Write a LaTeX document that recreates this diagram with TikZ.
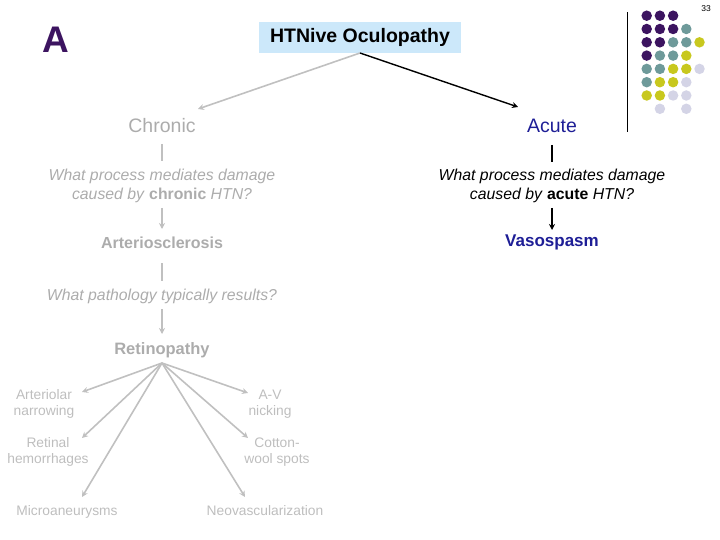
\documentclass[tikz,border=0pt]{standalone}
\usepackage{fontspec}
\setmainfont{Liberation Sans}
\usetikzlibrary{arrows.meta}
\definecolor{dpurple}{RGB}{60,20,96}
\definecolor{dteal}{RGB}{110,154,154}
\definecolor{dyellow}{RGB}{200,200,30}
\definecolor{dlav}{RGB}{212,212,230}
\definecolor{hbox}{RGB}{204,232,250}
\definecolor{chgray}{RGB}{172,172,172}
\definecolor{lgray}{RGB}{190,190,190}
\definecolor{agray}{RGB}{192,192,192}
\definecolor{acblue}{RGB}{30,30,150}
\tikzset{
  lab/.style={inner sep=0pt, align=center},
  grayarr/.style={draw=agray, line width=1.6pt, -{Stealth[length=6pt,width=6pt]}},
  grayln/.style={draw=agray, line width=1.6pt},
  blkarr/.style={draw=black, line width=1.4pt, -{Stealth[length=6pt,width=6pt]}},
  blkln/.style={draw=black, line width=1.4pt},
  dot/.style={circle, inner sep=0pt, minimum size=10.5pt},
  qtext/.style={lab, font=\fontsize{15.8}{19}\selectfont\itshape},
  small/.style={lab, text=lgray, font=\fontsize{13.8}{15.5}\selectfont},
}
\begin{document}
\begin{tikzpicture}[x=1pt,y=-1pt]
\useasboundingbox (0,0) rectangle (720,540);
% decoration dots
\foreach \c/\r/\col in {0/0/dpurple,1/0/dpurple,2/0/dpurple,
  0/1/dpurple,1/1/dpurple,2/1/dpurple,3/1/dteal,
  0/2/dpurple,1/2/dpurple,2/2/dteal,3/2/dteal,4/2/dyellow,
  0/3/dpurple,1/3/dteal,2/3/dteal,3/3/dyellow,
  0/4/dteal,1/4/dteal,2/4/dyellow,3/4/dyellow,4/4/dlav,
  0/5/dteal,1/5/dyellow,2/5/dyellow,3/5/dlav,
  0/6/dyellow,1/6/dyellow,2/6/dlav,3/6/dlav,
  1/7/dlav,3/7/dlav}
  \node[dot, fill=\col] (d\c\r) at (646.7+13.2*\c, 15.7+13.3*\r) {};
\coordinate (vt) at (627.5,12.5);
\coordinate (vb) at (627.5,132);
\draw[black, line width=1pt] (vt) -- (vb);
\node[lab, font=\fontsize{8.5}{10}\selectfont] (pg) at (706,9) {33};
\node[lab, text=dpurple, font=\fontsize{37}{42}\selectfont\bfseries] (A) at (56,40) {A};
% title
\node[fill=hbox, minimum width=202pt, minimum height=31pt, inner sep=0pt, font=\fontsize{19.5}{22}\selectfont\bfseries] (T) at (360,37.5) {HTNive Oculopathy};
\coordinate (tb) at (360,53);
% levels
\node[lab, text=chgray, font=\fontsize{19.5}{23}\selectfont] (chr) at (162,126) {Chronic};
\node[lab, text=acblue, font=\fontsize{19.5}{23}\selectfont] (acu) at (552,126) {Acute};
\coordinate (chrA) at (198,109);
\coordinate (acuA) at (518,107);
\draw[grayarr] (tb) -- (chrA);
\draw[blkarr] (tb) -- (acuA);
% chronic branch
\node[qtext, text=chgray] (q1) at (162,186) {What process mediates damage\\caused by \textup{\bfseries chronic} HTN?};
\node[lab, text=chgray, font=\fontsize{16}{19}\selectfont\bfseries] (art) at (162,242.5) {Arteriosclerosis};
\node[qtext, text=chgray] (q2) at (162,296) {What pathology typically results?};
\node[lab, text=chgray, font=\fontsize{16.5}{19}\selectfont\bfseries] (ret) at (162,350.5) {Retinopathy};
\draw[grayln] (162,144) -- (162,161);
\draw[grayarr] (162,208) -- (162,229);
\draw[grayln] (162,263) -- (162,281);
\draw[grayarr] (162,309) -- (162,334);
% acute branch
\node[qtext, text=black] (q3) at (552,186) {What process mediates damage\\caused by \textup{\bfseries acute} HTN?};
\node[lab, text=acblue, font=\fontsize{17}{20}\selectfont\bfseries] (vas) at (552,242.5) {Vasospasm};
\draw[blkln] (552,145) -- (552,162);
\draw[blkarr] (552,208) -- (552,230);
% retinopathy outcomes
\coordinate (rs) at (162,363);
\node[small] (an) at (44,404) {Arteriolar\\narrowing};
\node[small] (rh) at (48,452) {Retinal\\hemorrhages};
\node[small] (ma) at (67,512) {Microaneurysms};
\node[small] (av) at (270,404) {A-V\\nicking};
\node[small] (cw) at (277,452) {Cotton-\\wool spots};
\node[small] (nv) at (265,511) {Neovascularization};
\coordinate (anA) at (82,392);
\coordinate (rhA) at (82,438);
\coordinate (maA) at (82,497);
\coordinate (avA) at (248,393);
\coordinate (cwA) at (248,438);
\coordinate (nvA) at (245,497);
\foreach \t in {anA,rhA,maA,avA,cwA,nvA}
  \draw[grayarr] (rs) -- (\t);
\end{tikzpicture}
\end{document}
